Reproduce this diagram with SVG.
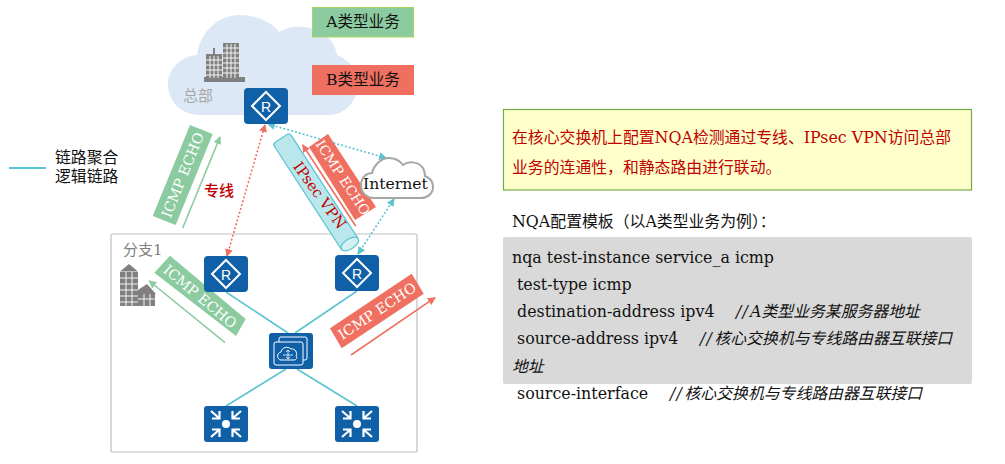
<svg xmlns="http://www.w3.org/2000/svg" xmlns:xlink="http://www.w3.org/1999/xlink" width="1005" height="464" viewBox="0 0 1005 464">
<style>
text{font-family:"DejaVu Serif","Noto Sans CJK SC",serif;font-size:15.85px;fill:#111}
.lab{font-size:15.6px}
.cjk{font-family:"Noto Sans CJK SC",sans-serif}
.it{font-style:italic}
.slash{letter-spacing:1.2px}
.paren{font-family:"Noto Sans CJK TC",sans-serif}
.banner{fill:#fff;font-size:14.2px;text-anchor:middle;dominant-baseline:central}
.link{stroke:#5CC3D3;stroke-width:1.6;fill:none}
.dotr{stroke:#EF6F60;stroke-width:1.6;stroke-dasharray:2 2;fill:none;marker-start:url(#hr);marker-end:url(#hr)}
.dott{stroke:#5CC3D3;stroke-width:1.6;stroke-dasharray:2 2;fill:none;marker-start:url(#ht);marker-end:url(#ht)}
.bg{fill:#8CCBA0}.br{fill:#EF6F60}
.ag{stroke:#8CCBA0;stroke-width:1.6;fill:none;marker-end:url(#hg)}
.ar{stroke:#EF6F60;stroke-width:1.6;fill:none;marker-end:url(#hr)}
.dev{fill:#1060A8}
.w{stroke:#fff;fill:none}
.bld{fill:#808080}
.win{stroke:#fff;stroke-width:.9;fill:none}
</style>
<defs>
<marker id="hr" viewBox="0 0 8 8" refX="7" refY="4" markerWidth="8" markerHeight="8" markerUnits="userSpaceOnUse" orient="auto-start-reverse"><path d="M0 0L8 4L0 8Z" fill="#EF6F60"/></marker>
<marker id="ht" viewBox="0 0 8 8" refX="7" refY="4" markerWidth="8" markerHeight="8" markerUnits="userSpaceOnUse" orient="auto-start-reverse"><path d="M0 0L8 4L0 8Z" fill="#5CC3D3"/></marker>
<marker id="hg" viewBox="0 0 8 8" refX="7" refY="4" markerWidth="8" markerHeight="8" markerUnits="userSpaceOnUse" orient="auto"><path d="M0 0L8 4L0 8Z" fill="#8CCBA0"/></marker>
<g id="router"><rect class="dev" width="44" height="36" rx="4"/><path class="w" stroke-width="2" d="M22 4L36 18L22 32L8 18Z"/><text x="22" y="23.500" text-anchor="middle" style="font-family:'Liberation Sans',sans-serif;font-size:14px;fill:#fff">R</text></g>
<g id="switch"><rect class="dev" width="44" height="36" rx="3"/><circle cx="22" cy="18" r="4" fill="#fff"/><g class="w" stroke-width="2.2"><path d="M7 5L15 12M8 12.500H15.500V5"/><path d="M37 5L29 12M36 12.500H28.500V5"/><path d="M7 31L15 24M8 23.500H15.500V31"/><path d="M37 31L29 24M36 23.500H28.500V31"/></g></g>
</defs>

<g id="hq-cloud"><path fill="#DCE8F5" d="M200 115C180 115 168 100 168 84C168 68 182 56 197 55C200 32 218 15 240 15C255 15 272 22 279 32C287 27 295 26 303 27C322 28 335 40 337 55C350 60 358 72 358 84C358 100 345 115 330 115Z"/>
<g id="hq-building"><rect class="bld" x="204" y="77" width="41" height="5"/><rect class="bld" x="206" y="54" width="16" height="24"/><rect class="bld" x="213" y="48" width="2" height="8"/><rect class="bld" x="223" y="43" width="16" height="35"/><path class="win" d="M206 60H222M206 65H222M206 70H222M206 75H222M210 56V78M214 56V78M218 56V78M223 48H239M223 53H239M223 58H239M223 63H239M223 68H239M223 73H239M227 44V78M231 44V78M235 44V78"/></g>
<text class="cjk" x="183" y="101" style="fill:#A6A6A6;font-size:15px">总部</text></g>

<g id="label-a"><rect x="312.500" y="7.500" width="101" height="29.500" fill="#8CCBA0" stroke="#A4D65E"/><text class="lab" x="363" y="27" text-anchor="middle">A类型业务</text></g>
<g id="label-b"><rect x="312" y="65" width="102" height="30" fill="#EF6F60"/><text class="lab" x="363" y="85" text-anchor="middle">B类型业务</text></g>

<g id="branch"><rect x="111" y="234" width="306" height="218" rx="2" fill="#fff" stroke="#BFBFBF" stroke-width="1.200"/>
<text x="123" y="255" style="fill:#7F7F7F;font-size:15px">分支1</text>
<g id="branch-building"><path class="bld" d="M120 271.500L129 264L138 271.500Z"/><rect class="bld" x="120" y="272" width="18" height="34"/><path class="bld" d="M138 290L147 284L156 294H138Z"/><rect class="bld" x="138" y="294" width="17" height="12"/><path class="win" d="M120 278H138M120 284H138M120 290H138M120 296H138M120 302H138M126 272V306M132 272V306M138 299H155M144 294V306M150 294V306"/></g></g>

<g id="connectors">
<path class="link" d="M226 292L288 333M357 291L295 333M286 369L226 406M297 369L357 406"/>
<path class="dotr" d="M227 256L265 125"/>
<path class="dott" d="M268 124L386 158"/>
<path class="dott" d="M358 254L394 199"/>
<path class="ag" d="M182.700 228L220 137"/>
<path class="ar" d="M355.700 226L302.700 145"/>
<path class="ag" d="M225 342.700L149.300 281"/>
<path class="ar" d="M351 355L435 297.700"/>
</g>

<g id="vpn-tunnel"><g transform="translate(316 192) rotate(-33)"><path fill="#B9E7EC" stroke="#5CC3D3" stroke-width="1.200" d="M-10 -61A3 3 0 0 1 -7 -64H7A3 3 0 0 1 10 -61V62H-10Z"/><ellipse cx="0" cy="62" rx="10" ry="5" fill="#D3F0F3" stroke="#5CC3D3" stroke-width="1.200"/></g>
<text x="320" y="195" transform="rotate(54 320 195)" text-anchor="middle" dominant-baseline="central" style="fill:#C00000;font-size:14.800px">IPsec VPN</text></g>

<g id="echo-green-1"><polygon class="bg" points="190,125 212.700,134 175.700,225 152.700,216"/><text class="banner" transform="translate(182.700 175) rotate(-68)">ICMP ECHO</text></g>
<g id="echo-red-1"><polygon class="br" points="328,134 376,207 355,220 309,147"/><text class="banner" style="font-size:13.600px" transform="translate(343 177.500) rotate(56.700)">ICMP ECHO</text></g>
<g id="echo-green-2"><polygon class="bg" points="170,255.700 245.700,319 236,336 154.300,272.700"/><text class="banner" transform="translate(200 296.500) rotate(39.800)">ICMP ECHO</text></g>
<g id="echo-red-2"><polygon class="br" points="411.700,273.700 423.700,293.700 341.700,348.300 330,328.300"/><text class="banner" transform="translate(377 311) rotate(-33.600)">ICMP ECHO</text></g>

<g id="internet"><path fill="#fff" stroke="#A6A6A6" stroke-width="2" d="M374 198C366 198 361 192 361 185C361 178 366 173 372 173C374 165 381 158 389 158C395 158 400 161 403 165C408 161 418 161 423 168C425 172 425 174 425 176C430 178 433 182 433 187C433 194 427 198 421 198Z"/><text class="lab" x="363" y="189">Internet</text></g>

<g id="legend"><path d="M9 168H46" stroke="#5CC3D3" stroke-width="2"/><text class="cjk" x="55" y="163">链路聚合</text><text class="cjk" x="55" y="182">逻辑链路</text></g>
<text id="label-line" class="cjk" x="204" y="196" style="fill:#C00000;font-size:15px;font-weight:500">专线</text>

<use id="router-hq" xlink:href="#router" href="#router" x="244" y="88"/>
<use id="router-b1" xlink:href="#router" href="#router" x="204" y="256"/>
<use id="router-b2" xlink:href="#router" href="#router" x="335" y="255"/>
<g id="core"><rect class="dev" x="269" y="333" width="44" height="36" rx="3"/><g class="w" stroke-width="1"><path d="M279 342V339A2 2 0 0 1 281 337H305A2 2 0 0 1 307 339V358A2 2 0 0 1 305 360H303"/><rect x="274" y="342" width="29" height="23" rx="2"/><path d="M281 360C277 360 276 353 281 352C282 347 288 346 291 349C295 348 298 353 296 356C298 358 296 360 294 360Z"/><path d="M288 350V359M283 355H293M286 352L288 350L290 352M286 357L288 359L290 357" stroke-width=".8"/></g></g>
<use id="switch-1" xlink:href="#switch" href="#switch" x="204" y="406"/>
<use id="switch-2" xlink:href="#switch" href="#switch" x="335" y="406"/>

<g id="note"><rect x="503.500" y="109.500" width="468" height="80.500" fill="#FFFFCC" stroke="#70AD47" stroke-width="1.200"/>
<text x="512" y="143" style="fill:#C00000">在核心交换机上配置NQA检测通过专线、IPsec VPN访问总部</text>
<text x="512" y="173" style="fill:#C00000">业务的连通性，和静态路由进行联动。</text></g>

<g id="config"><text x="512" y="227">NQA配置模板<tspan class="paren">（</tspan>以A类型业务为例<tspan class="paren">）</tspan>：</text>
<rect x="503" y="237" width="469" height="147" rx="2" fill="#D9D9D9"/>
<text x="512" y="263">nqa test-instance service_a icmp</text>
<text x="517" y="290">test-type icmp</text>
<text x="517" y="317">destination-address ipv4</text><text class="it" y="317"><tspan class="slash" x="736">//</tspan><tspan x="750">A类型业务某服务器地址</tspan></text>
<text x="517" y="344">source-address ipv4</text><text class="it" y="344"><tspan class="slash" x="700">//</tspan><tspan x="714.500">核心交换机与专线路由器互联接口</tspan></text>
<text class="it" x="512" y="372">地址</text>
<text x="517" y="399">source-interface</text><text class="it" y="399"><tspan class="slash" x="670">//</tspan><tspan x="684.500">核心交换机与专线路由器互联接口</tspan></text></g>
</svg>
